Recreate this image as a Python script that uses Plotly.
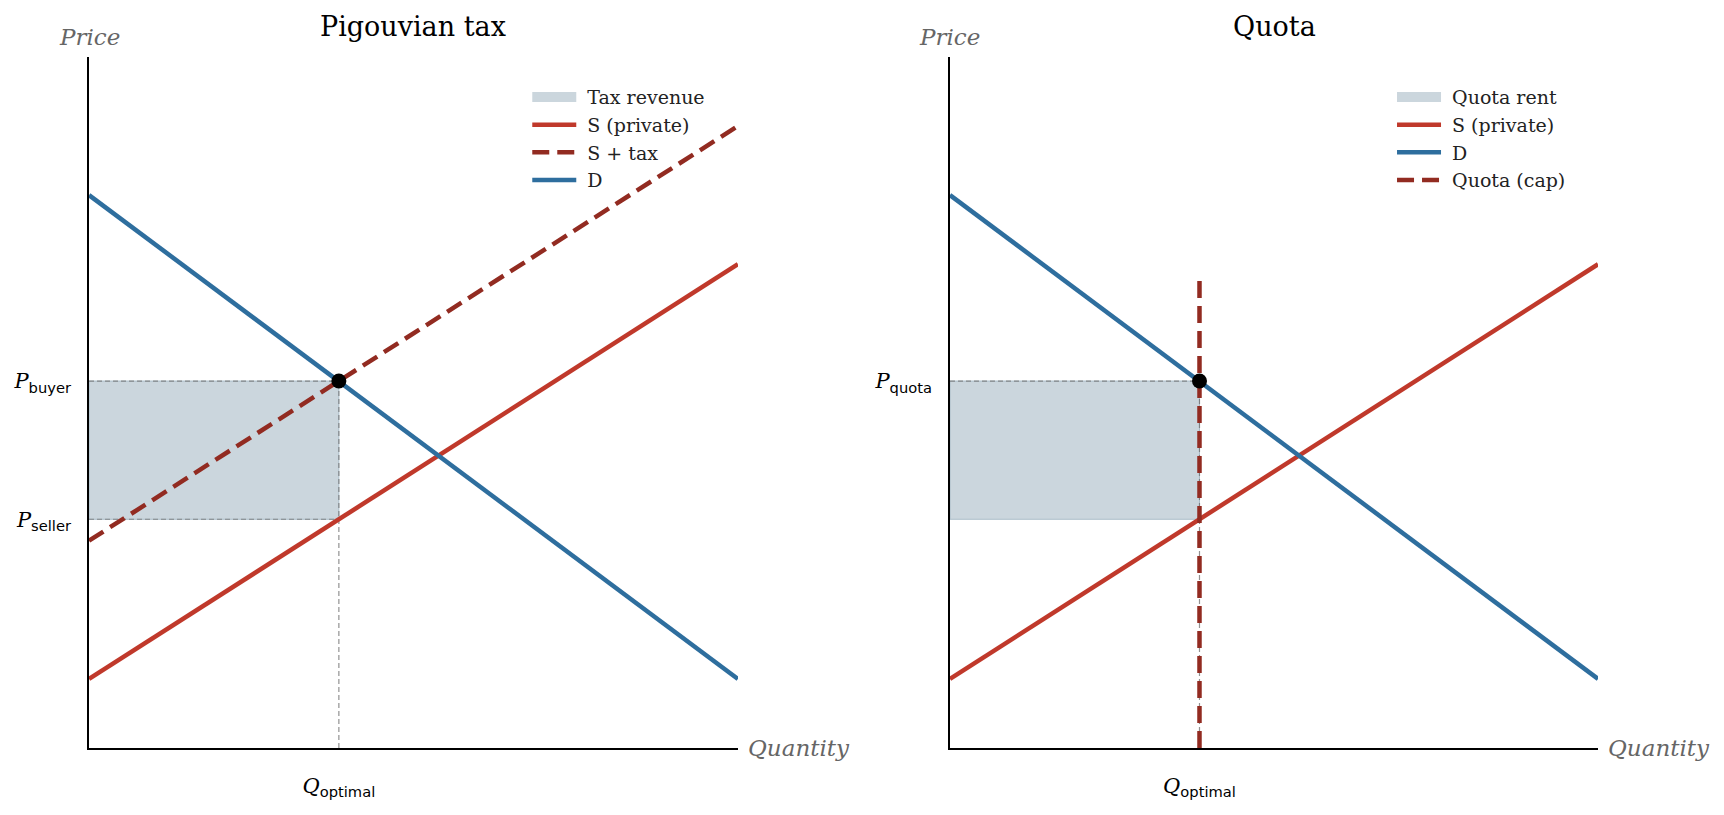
import plotly.graph_objects as go

# curve end points (quantity 0 and 10)
q_ends = [0, 10]
demand = [8.0, 1.0]
supply = [1.0, 7.0]
supply_tax = [3.0, 9.0]

# equilibrium / policy values
q_optimal = 3.85
p_buyer = 5.31
p_seller = 3.31
quota_top = 6.8

RED = "#c0392b"
DARK_RED = "#922b21"
BLUE = "#2e6e9e"
FILL = "#cbd6dd"
EDGE = "#a9bcc8"
GREY = "rgba(110,110,110,0.75)"
SERIF = "DejaVu Serif"
SANS = "DejaVu Sans"
LW = 4.5
DASH = "17px,8px"
PAD = "\u00a0"  # small gap between legend swatch and text

fig = go.Figure()


def add_panel(fig, xa, ya, legend, fill_name, show_tax):
    xref, yref = xa, ya
    # shaded rectangle
    fig.add_trace(go.Scatter(
        x=[0, q_optimal, q_optimal, 0, 0],
        y=[p_seller, p_seller, p_buyer, p_buyer, p_seller],
        fill="toself", fillcolor=FILL, mode="lines",
        line=dict(color=EDGE, width=1), showlegend=False,
        xaxis=xref, yaxis=yref, hoverinfo="skip"))
    # legend swatch for the shaded area
    fig.add_trace(go.Scatter(
        x=[None], y=[None], mode="lines", name=PAD + fill_name,
        line=dict(color=FILL, width=14),
        legend=legend, xaxis=xref, yaxis=yref))
    # helper dashed guides
    guides = [([0, q_optimal], [p_buyer, p_buyer]),
              ([q_optimal, q_optimal], [0, p_buyer])]
    if show_tax:
        guides.append(([0, q_optimal], [p_seller, p_seller]))
    for gx, gy in guides:
        fig.add_trace(go.Scatter(
            x=gx, y=gy, mode="lines", showlegend=False,
            line=dict(color=GREY, width=1.2, dash="5px,3px"),
            xaxis=xref, yaxis=yref, hoverinfo="skip"))
    fig.add_trace(go.Scatter(
        x=q_ends, y=supply, mode="lines", name=PAD + "S (private)",
        line=dict(color=RED, width=LW),
        legend=legend, xaxis=xref, yaxis=yref))
    if show_tax:
        fig.add_trace(go.Scatter(
            x=q_ends, y=supply_tax, mode="lines", name=PAD + "S + tax",
            line=dict(color=DARK_RED, width=LW, dash=DASH),
            legend=legend, xaxis=xref, yaxis=yref))
    fig.add_trace(go.Scatter(
        x=q_ends, y=demand, mode="lines", name=PAD + "D",
        line=dict(color=BLUE, width=LW),
        legend=legend, xaxis=xref, yaxis=yref))
    if not show_tax:
        fig.add_trace(go.Scatter(
            x=[q_optimal, q_optimal], y=[0, quota_top], mode="lines",
            name=PAD + "Quota (cap)",
            line=dict(color=DARK_RED, width=LW, dash=DASH),
            legend=legend, xaxis=xref, yaxis=yref))
    fig.add_trace(go.Scatter(
        x=[q_optimal], y=[p_buyer], mode="markers", showlegend=False,
        marker=dict(color="black", size=15),
        xaxis=xref, yaxis=yref))


add_panel(fig, "x", "y", "legend", "Tax revenue", True)
add_panel(fig, "x2", "y2", "legend2", "Quota rent", False)


def sub_label(base, sub):
    return (f"<i><span style='font-family:{SERIF}'>{base}</span></i>"
            f"<sub>{sub}</sub>")


axis_common = dict(range=[0, 10], showgrid=False, zeroline=False,
                   showline=True, linecolor="black", linewidth=1.6,
                   ticks="", tickmode="array",
                   tickfont=dict(family=SANS, size=21, color="black"))

legend_common = dict(xanchor="left", yanchor="top", bgcolor="rgba(0,0,0,0)",
                     itemwidth=44, traceorder="normal",
                     font=dict(family=SERIF, size=19, color="#222"))

fig.update_layout(
    width=1724, height=815,
    paper_bgcolor="white", plot_bgcolor="white",
    margin=dict(l=0, r=0, t=0, b=0),
    showlegend=True,
    xaxis=dict(domain=[0.047, 0.4234], anchor="y",
               tickvals=[q_optimal], ticktext=[sub_label("Q", "optimal")],
               ticklabelstandoff=18, **axis_common),
    yaxis=dict(domain=[0.092, 0.940], anchor="x",
               tickvals=[p_seller, p_buyer],
               ticktext=[sub_label("P", "seller"), sub_label("P", "buyer")],
               ticklabelstandoff=12, **axis_common),
    xaxis2=dict(domain=[0.5464, 0.9223], anchor="y2",
                tickvals=[q_optimal], ticktext=[sub_label("Q", "optimal")],
                ticklabelstandoff=18, **axis_common),
    yaxis2=dict(domain=[0.092, 0.940], anchor="x2",
                tickvals=[p_buyer], ticktext=[sub_label("P", "quota")],
                ticklabelstandoff=12, **axis_common),
    legend=dict(x=0.3012, y=0.914, **legend_common),
    legend2=dict(x=0.8028, y=0.914, **legend_common),
)

annotations = []
for xd, yd, title in [("x", "y", "Pigouvian tax"), ("x2", "y2", "Quota")]:
    annotations.append(dict(
        text=title, xref=f"{xd} domain", yref="paper", x=0.5, y=0.977,
        xanchor="center", yanchor="middle", showarrow=False,
        font=dict(family=SERIF, size=27, color="black")))
    annotations.append(dict(
        text="<i>Price</i>", xref=f"{xd} domain", yref="paper", x=0, y=0.965,
        xanchor="center", yanchor="middle", showarrow=False,
        font=dict(family=SERIF, size=23, color="#666")))
    annotations.append(dict(
        text="<i>Quantity</i>", xref=f"{xd} domain", yref=f"{yd} domain",
        x=1, y=0, xanchor="left", yanchor="middle", xshift=8,
        showarrow=False, font=dict(family=SERIF, size=23, color="#666")))
fig.update_layout(annotations=annotations)

fig.write_html("out.html")
